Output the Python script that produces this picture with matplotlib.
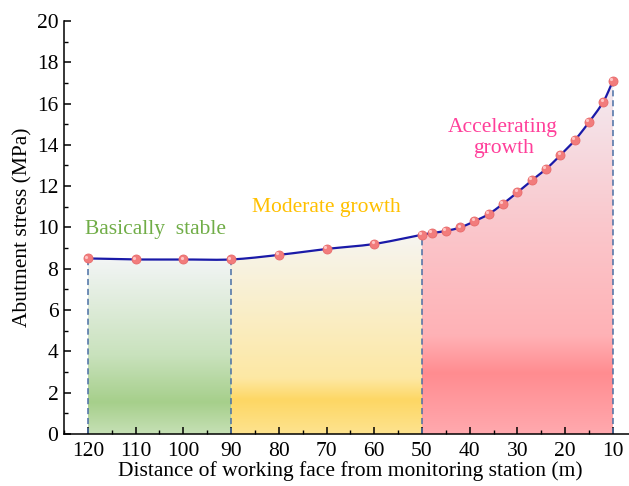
import numpy as np
import matplotlib
matplotlib.use("Agg")
import matplotlib.pyplot as plt
from matplotlib.colors import LinearSegmentedColormap

# Monitoring data: distance from working face (m) and abutment stress (MPa)
distance = [120, 110, 100, 90, 80, 70, 60, 50, 48, 45, 42, 39, 36, 33,
            30, 27, 24, 21, 18, 15, 12, 10]
stress = [8.50, 8.45, 8.45, 8.45, 8.67, 8.96, 9.20, 9.65, 9.72, 9.83,
          10.00, 10.30, 10.65, 11.15, 11.70, 12.28, 12.83, 13.50, 14.22,
          15.10, 16.09, 17.10]

# Stage boundaries (m) and stage names
stage_bounds = [120, 90, 50, 10]
stage_names = ["Basically  stable", "Moderate growth", "Accelerating\ngrowth"]
stage_text_colors = ["#70ad47", "#ffc000", "#ff3f9a"]
stage_text_pos = [(105.8, 9.9), (70, 10.95), (33, 14.35)]

# Vertical gradient stops for each stage: (fraction of stage height, colour)
stage_gradients = [
    [(0.0, "#c6e0b5"), (0.18, "#a6cf8b"), (0.45, "#c9e2bd"), (1.0, "#f3f5f6")],
    [(0.0, "#fde38f"), (0.17, "#fed764"), (0.28, "#fde8a4"), (1.0, "#f6f5f1")],
    [(0.0, "#ffa9ae"), (0.17, "#ff8c90"), (0.28, "#ffb2b6"), (0.6, "#fac8cd"),
     (1.0, "#f3ebf1")],
]

x_ticks = [120, 110, 100, 90, 80, 70, 60, 50, 40, 30, 20, 10]


def catmull_rom(xs, ys, n=20):
    xs = np.asarray(xs, float)
    ys = np.asarray(ys, float)
    px = np.concatenate([[2 * xs[0] - xs[1]], xs, [2 * xs[-1] - xs[-2]]])
    py = np.concatenate([[2 * ys[0] - ys[1]], ys, [2 * ys[-1] - ys[-2]]])
    out_x, out_y = [], []
    t = np.linspace(0, 1, n, endpoint=False)
    for i in range(1, len(px) - 2):
        p0, p1, p2, p3 = (np.array([px[j], py[j]]) for j in (i - 1, i, i + 1, i + 2))
        tt = t[:, None]
        pts = 0.5 * ((2 * p1) + (-p0 + p2) * tt + (2 * p0 - 5 * p1 + 4 * p2 - p3) * tt ** 2
                     + (-p0 + 3 * p1 - 3 * p2 + p3) * tt ** 3)
        out_x.extend(pts[:, 0])
        out_y.extend(pts[:, 1])
    out_x.append(xs[-1])
    out_y.append(ys[-1])
    return np.array(out_x), np.array(out_y)


plt.rcParams["font.family"] = ["Liberation Serif", "DejaVu Serif"]
plt.rcParams["font.size"] = 15.5

fig = plt.figure(figsize=(6.29, 4.86), dpi=100)
# the axes run slightly past the right edge of the canvas
ax = fig.add_axes([0.1017, 0.107, 0.9107, 0.850])

sx, sy = catmull_rom(distance, stress)

# Gradient-filled stages clipped to the area under the curve
for k in range(3):
    hi, lo = stage_bounds[k], stage_bounds[k + 1]
    m = (sx <= hi + 1e-9) & (sx >= lo - 1e-9)
    seg_x, seg_y = sx[m], sy[m]
    top = seg_y.max()
    poly = ax.fill_between(seg_x, 0, seg_y, color="none", lw=0)
    cmap = LinearSegmentedColormap.from_list(f"stage{k}", stage_gradients[k])
    grad = np.linspace(0, 1, 256)[:, None]
    im = ax.imshow(grad, cmap=cmap, origin="lower", aspect="auto",
                   extent=(hi, lo, 0, top), zorder=1, interpolation="bicubic")
    im.set_clip_path(poly.get_paths()[0], transform=ax.transData)

# Dashed stage boundaries
for b in stage_bounds:
    yv = stress[distance.index(b)]
    ax.plot([b, b], [0, yv], ls=(0, (4, 2.5)), color="#4a6fa5", lw=1.1, zorder=2)

# Smoothed stress curve with markers
ax.plot(sx, sy, color="#1a1aa8", lw=1.6, zorder=3)
ax.plot(distance, stress, ls="none", marker="o", ms=6.5, mfc="#f27c7c",
        mec="#e86a6a", mew=0.6, zorder=4)
ax.plot(np.array(distance) + 0.35, np.array(stress) + 0.09, ls="none", marker="o",
        ms=2.3, mfc="#ffc4c4", mec="none", zorder=5)

for name, col, (tx, ty) in zip(stage_names, stage_text_colors, stage_text_pos):
    ax.text(tx, ty, name, color=col, ha="center", va="center", fontsize=15.5,
            linespacing=1.15)

ax.set_xlim(125, 5)
ax.set_ylim(0, 20)
ax.set_xticks(x_ticks)
ax.set_xticks(np.arange(125, 4, -5), minor=True)
ax.set_yticks(np.arange(0, 21, 2))
ax.set_yticks(np.arange(0, 21, 1), minor=True)
ax.tick_params(direction="in", which="major", length=5, width=1.1, labelsize=15.5)
ax.tick_params(direction="in", which="minor", length=3, width=1.0)
ax.tick_params(axis="x", pad=6)
ax.tick_params(axis="y", pad=4)
for s in ("top", "right"):
    ax.spines[s].set_visible(False)
for s in ("left", "bottom"):
    ax.spines[s].set_linewidth(1.1)

ax.set_xlabel("Distance of working face from monitoring station (m)", fontsize=15.5,
              labelpad=0)
ax.set_ylabel("Abutment stress (MPa)", fontsize=15.5, labelpad=3)

fig.savefig("out.png", dpi=100)
